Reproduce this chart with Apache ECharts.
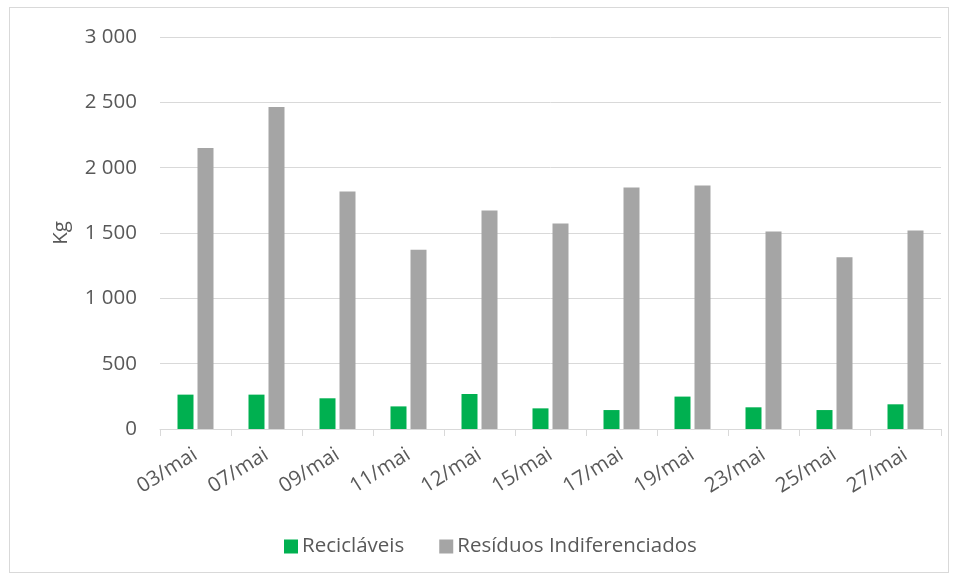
<!DOCTYPE html>
<html>
<head>
<meta charset="utf-8">
<script src="https://cdn.jsdelivr.net/npm/echarts@6/dist/echarts.min.js"></script>
<style>
  html, body { margin: 0; padding: 0; background: #fff; }
  #chart { width: 958px; height: 580px; }
  .frame { position: absolute; left: 9px; top: 7px; width: 938px; height: 564px; border: 1px solid #d9d9d9; pointer-events: none; }
</style>
</head>
<body>
<div id="chart"></div>
<div class="frame"></div>
<script>
var categories = ['03/mai', '07/mai', '09/mai', '11/mai', '12/mai', '15/mai', '17/mai', '19/mai', '23/mai', '25/mai', '27/mai'];
var reciclaveis = [263, 263, 235, 173, 268, 158, 145, 248, 166, 145, 189];
var indiferenciados = [2151, 2465, 1817, 1371, 1672, 1573, 1848, 1863, 1511, 1315, 1519];
var yTicks = [0, 500, 1000, 1500, 2000, 2500, 3000];

var textColor = '#595959';
var font = 'Open Sans';
var fs = 20.5;

function fmt(v) {
  return String(v).replace(/\B(?=(\d{3})+(?!\d))/g, ' ');
}

var chart = echarts.init(document.getElementById('chart'));
chart.setOption({
  animation: false,
  textStyle: { fontFamily: font, color: textColor },
  grid: { left: 160, right: 17, top: 37, bottom: 151, containLabel: false },
  legend: {
    top: 531,
    left: 279,
    itemWidth: 14,
    itemHeight: 14,
    itemGap: 35,
    icon: 'rect',
    textStyle: { fontFamily: font, fontSize: fs, color: textColor, padding: [0, 0, 0, -1] },
    data: ['Recicláveis', 'Resíduos Indiferenciados']
  },
  xAxis: {
    type: 'category',
    data: categories,
    axisLine: { lineStyle: { color: '#d9d9d9', width: 1 } },
    axisTick: { show: true, length: 7, lineStyle: { color: '#d9d9d9' } },
    axisLabel: { rotate: 32, fontSize: fs, color: textColor, fontFamily: font, margin: 24 }
  },
  yAxis: {
    type: 'value',
    min: yTicks[0],
    max: yTicks[yTicks.length - 1],
    interval: 500,
    name: 'Kg',
    nameLocation: 'middle',
    nameGap: 88,
    nameTextStyle: { fontSize: fs, color: textColor, fontFamily: font },
    axisLine: { show: false },
    axisTick: { show: false },
    splitLine: { lineStyle: { color: '#d9d9d9', width: 1 } },
    axisLabel: { fontSize: fs, color: textColor, fontFamily: font, margin: 23, formatter: fmt }
  },
  series: [
    {
      name: 'Recicláveis',
      type: 'bar',
      data: reciclaveis,
      barWidth: 16,
      barGap: '25%',
      itemStyle: { color: '#00b050' }
    },
    {
      name: 'Resíduos Indiferenciados',
      type: 'bar',
      data: indiferenciados,
      barWidth: 16,
      barGap: '25%',
      itemStyle: { color: '#a5a5a5' }
    }
  ]
});
</script>
</body>
</html>
